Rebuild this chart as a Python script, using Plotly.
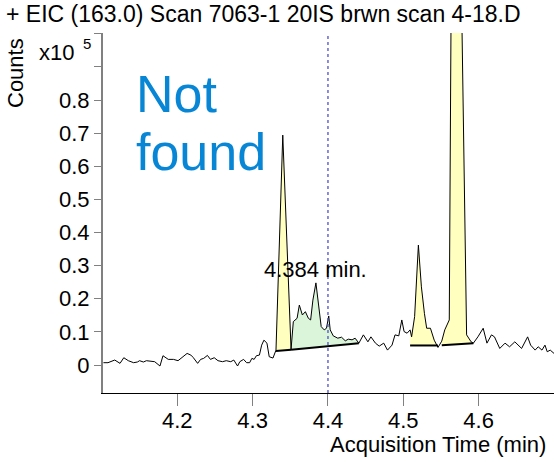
import plotly.graph_objects as go

# ---- data (counts in units of x10^5) ----
time = [4.102, 4.108, 4.117, 4.124, 4.129, 4.135, 4.142, 4.147, 4.150, 4.155,
        4.159, 4.164, 4.170, 4.177, 4.181, 4.188, 4.195, 4.201, 4.208, 4.213,
        4.218, 4.221, 4.227, 4.231, 4.235, 4.240, 4.244, 4.249, 4.254, 4.260,
        4.265, 4.271, 4.275, 4.280, 4.283, 4.288, 4.292, 4.296, 4.299, 4.302,
        4.305, 4.309, 4.312, 4.315, 4.319, 4.322, 4.327, 4.331, 4.340, 4.351,
        4.354, 4.359, 4.362, 4.366, 4.370, 4.374, 4.377, 4.380, 4.384, 4.388,
        4.391, 4.395, 4.398, 4.401, 4.403, 4.407, 4.413, 4.418, 4.423, 4.427,
        4.432, 4.436, 4.441, 4.447, 4.453, 4.457, 4.463, 4.468, 4.474, 4.479,
        4.485, 4.489, 4.494, 4.498, 4.501, 4.505, 4.509, 4.511, 4.515, 4.520,
        4.524, 4.528, 4.531, 4.536, 4.541, 4.546, 4.551, 4.555, 4.561, 4.564,
        4.570, 4.576, 4.584, 4.590, 4.593, 4.599, 4.606, 4.611, 4.617, 4.621,
        4.628, 4.635, 4.641, 4.648, 4.653, 4.657, 4.665, 4.669, 4.675, 4.679,
        4.684, 4.688, 4.691, 4.695, 4.700]
counts = [0.007, 0.007, 0.015, 0.005, 0.022, 0.013, 0.007, 0.009, 0.013, 0.009,
          0.013, 0.011, 0.010, -0.003, 0.028, 0.017, 0.017, 0.013, 0.025, 0.035,
          0.030, 0.023, 0.005, 0.017, 0.020, 0.029, 0.017, 0.022, 0.013, 0.010,
          0.013, 0.010, 0.015, -0.003, 0.010, 0.017, 0.007, 0.007, 0.020, 0.017,
          0.028, 0.030, 0.060, 0.075, 0.066, 0.025, 0.021, 0.045, 0.694, 0.047,
          0.131, 0.141, 0.181, 0.151, 0.161, 0.141, 0.136, 0.196, 0.248, 0.175,
          0.116, 0.106, 0.111, 0.148, 0.106, 0.088, 0.081, 0.084, 0.073, 0.078,
          0.076, 0.081, 0.066, 0.091, 0.070, 0.085, 0.066, 0.057, 0.066, 0.045,
          0.060, 0.091, 0.088, 0.136, 0.101, 0.096, 0.106, 0.085, 0.146, 0.362,
          0.236, 0.156, 0.111, 0.111, 0.075, 0.053, 0.072, 0.106, 0.136, 1.300,
          2.000, 1.300, 0.091, 0.070, 0.066, 0.085, 0.111, 0.066, 0.091, 0.085,
          0.050, 0.066, 0.055, 0.070, 0.060, 0.050, 0.085, 0.060, 0.045, 0.055,
          0.045, 0.060, 0.040, 0.045, 0.035]

# integrated peaks: start/end time, baseline level at start/end, fill
peak_start = [4.331, 4.351, 4.509, 4.551]
peak_end = [4.351, 4.441, 4.546, 4.593]
base_start = [0.042, 0.046, 0.059, 0.060]
base_end = [0.046, 0.066, 0.059, 0.066]
peak_fill = ["rgb(255,255,192)", "rgb(218,245,218)", "rgb(255,255,192)", "rgb(255,255,192)"]

x_ticks = [4.2, 4.3, 4.4, 4.5, 4.6]
x_ticklabels = ["4.2", "4.3", "4.4", "4.5", "4.6"]
y_ticks = [0, 0.1, 0.2, 0.3, 0.4, 0.5, 0.6, 0.7, 0.8, 0.9, 1.0]
y_ticklabels = ["0", "0.1", "0.2", "0.3", "0.4", "0.5", "0.6", "0.7", "0.8", "", ""]

marker_time = 4.4
apex_label = "4.384 min."
apex_time = 4.384

title_text = "+ EIC (163.0) Scan 7063-1 20IS brwn scan 4-18.D"

FONT = "Liberation Sans, Arial, sans-serif"

# ---- layout geometry ----
W, H = 554, 462
ML, MR, MT, MB = 103, 0, 33, 69
PW, PH = W - ML - MR, H - MT - MB


def px_x(px):
    return (px - ML) / PW


def px_y(py):
    return (H - MB - py) / PH


fig = go.Figure()

# peak fills
for s, e, bs, be, col in zip(peak_start, peak_end, base_start, base_end, peak_fill):
    xs = [t for t in time if s - 1e-9 <= t <= e + 1e-9]
    ys = [c for t, c in zip(time, counts) if s - 1e-9 <= t <= e + 1e-9]
    xs = xs + [e, s]
    ys = ys + [be, bs]
    fig.add_trace(go.Scatter(x=xs, y=ys, mode="lines", fill="toself",
                             fillcolor=col, line=dict(width=0),
                             hoverinfo="skip", showlegend=False))

# chromatogram
fig.add_trace(go.Scatter(x=time, y=counts, mode="lines",
                         line=dict(color="black", width=1),
                         showlegend=False))

# baselines
for s, e, bs, be in zip(peak_start, peak_end, base_start, base_end):
    fig.add_trace(go.Scatter(x=[s, e], y=[bs, be], mode="lines",
                             line=dict(color="black", width=2),
                             hoverinfo="skip", showlegend=False))

# dashed marker line
fig.add_shape(type="line", xref="x", yref="paper", x0=marker_time, x1=marker_time,
              y0=0, y1=1, line=dict(color="rgb(80,80,200)", width=1.3, dash="3px,3px"))

ann = []
ann.append(dict(text=title_text, xref="paper", yref="paper", x=px_x(4), y=px_y(14),
                xanchor="left", yanchor="middle", showarrow=False,
                font=dict(size=23, color="black", family=FONT)))
ann.append(dict(text="Counts", xref="paper", yref="paper", x=px_x(15), y=px_y(73),
                xanchor="center", yanchor="middle", textangle=-90, showarrow=False,
                font=dict(size=22, color="black", family=FONT)))
ann.append(dict(text="x10", xref="paper", yref="paper", x=px_x(37), y=px_y(52),
                xanchor="left", yanchor="middle", showarrow=False,
                font=dict(size=22, color="black", family=FONT)))
ann.append(dict(text="5", xref="paper", yref="paper", x=px_x(81), y=px_y(43),
                xanchor="left", yanchor="middle", showarrow=False,
                font=dict(size=15, color="black", family=FONT)))
ann.append(dict(text="Not", xref="paper", yref="paper", x=px_x(134), y=px_y(94),
                xanchor="left", yanchor="middle", showarrow=False,
                font=dict(size=52, color="rgb(8,134,214)", family=FONT)))
ann.append(dict(text="found", xref="paper", yref="paper", x=px_x(134), y=px_y(152),
                xanchor="left", yanchor="middle", showarrow=False,
                font=dict(size=52, color="rgb(8,134,214)", family=FONT)))
ann.append(dict(text=apex_label, xref="x", yref="paper", x=apex_time, y=px_y(269),
                xanchor="center", yanchor="middle", showarrow=False,
                font=dict(size=22, color="black", family=FONT)))
ann.append(dict(text="Acquisition Time (min)", xref="paper", yref="paper", x=px_x(548),
                y=px_y(444), xanchor="right", yanchor="middle", showarrow=False,
                font=dict(size=22, color="black", family=FONT)))

fig.update_layout(
    width=W, height=H,
    margin=dict(l=ML, r=MR, t=MT, b=MB, pad=0),
    paper_bgcolor="white", plot_bgcolor="white",
    annotations=ann,
    xaxis=dict(range=[4.1014, 4.700], tickvals=x_ticks, ticktext=x_ticklabels,
               showgrid=False, zeroline=False, showline=True, linecolor="black",
               linewidth=1, ticks="outside", ticklen=12, tickcolor="rgb(128,128,128)",
               tickwidth=1, ticklabelstandoff=-4,
               tickfont=dict(size=22, color="black", family=FONT)),
    yaxis=dict(range=[-0.0845, 1.0023], tickvals=y_ticks, ticktext=y_ticklabels,
               showgrid=False, zeroline=False, showline=True, linecolor="rgb(128,128,128)",
               linewidth=2, ticks="outside", ticklen=7, tickcolor="rgb(128,128,128)",
               tickwidth=1, tickfont=dict(size=22, color="black", family=FONT)),
)

fig.write_html("out.html")
